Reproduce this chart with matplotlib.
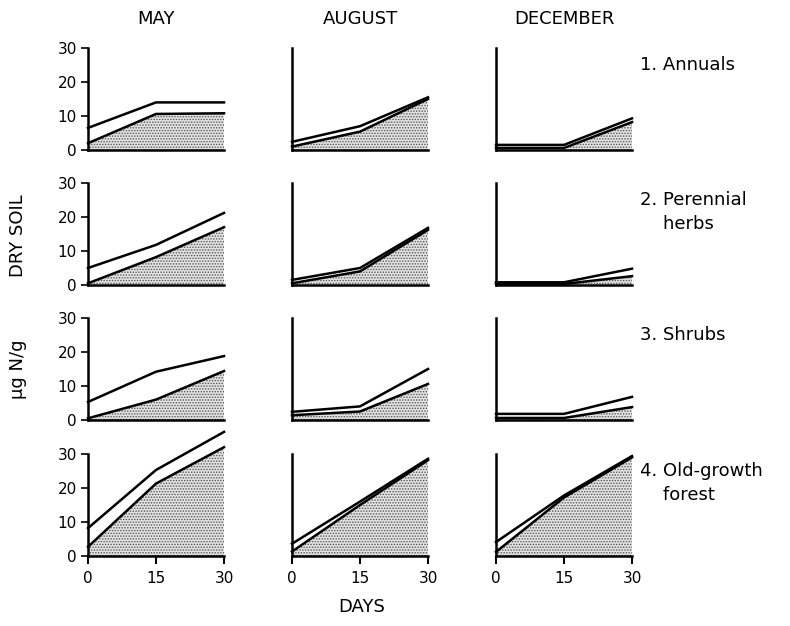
import matplotlib
matplotlib.use("Agg")
import matplotlib.pyplot as plt

plt.rcParams['font.family'] = ['DejaVu Sans']
plt.rcParams['hatch.color'] = '#555555'
plt.rcParams['hatch.linewidth'] = 0.7

days = [0, 15, 30]
months = ["MAY", "AUGUST", "DECEMBER"]
groups = ["1. Annuals", "2. Perennial\n    herbs", "3. Shrubs", "4. Old-growth\n    forest"]
y_ticks = [0, 10, 20, 30]
x_ticks = [0, 15, 30]

# upper (total) line values per group, per month
upper = {
    "1. Annuals": [[6.5, 14.0, 14.0], [2.4, 7.0, 15.5], [1.5, 1.5, 9.3]],
    "2. Perennial\n    herbs": [[5.0, 11.8, 21.2], [1.5, 5.0, 16.8], [0.8, 0.8, 4.8]],
    "3. Shrubs": [[5.3, 14.2, 18.8], [2.4, 4.0, 15.0], [1.8, 1.8, 6.8]],
    "4. Old-growth\n    forest": [[8.2, 25.3, 36.5], [3.6, 16.0, 28.6], [4.1, 17.8, 29.4]],
}
# lower (shaded) line values per group, per month
lower = {
    "1. Annuals": [[2.0, 10.6, 10.8], [1.0, 5.4, 15.0], [0.6, 0.6, 8.2]],
    "2. Perennial\n    herbs": [[0.5, 8.2, 17.0], [0.5, 4.0, 16.2], [0.3, 0.3, 2.6]],
    "3. Shrubs": [[0.5, 6.0, 14.4], [1.4, 2.5, 10.6], [0.6, 0.6, 3.8]],
    "4. Old-growth\n    forest": [[2.7, 21.3, 32.0], [1.3, 15.0, 28.2], [1.2, 17.2, 29.0]],
}

W, H = 790, 626
fig = plt.figure(figsize=(W / 100, H / 100), dpi=100)

col_left = [88, 292, 496]
row_bottom = [150, 285, 420, 556]
aw, ah = 136, 102

for r, g in enumerate(groups):
    for c, m in enumerate(months):
        ax = fig.add_axes([col_left[c] / W, 1 - row_bottom[r] / H, aw / W, ah / H])
        up = upper[g][c]
        lo = lower[g][c]
        ax.fill_between(days, 0, lo, facecolor='#e2e2e2', edgecolor='none',
                        hatch='......', linewidth=0, clip_on=False, zorder=1)
        ax.plot(days, up, color='black', lw=1.8, clip_on=False, zorder=3)
        ax.plot(days, lo, color='black', lw=1.8, clip_on=False, zorder=3)
        ax.set_xlim(0, 30)
        ax.set_ylim(0, 30)
        for s in ['top', 'right']:
            ax.spines[s].set_visible(False)
        ax.spines['left'].set_linewidth(1.8)
        ax.spines['bottom'].set_linewidth(1.8)
        ax.spines['left'].set_zorder(4)
        ax.spines['bottom'].set_zorder(4)
        if c == 0:
            ax.set_yticks(y_ticks)
            ax.tick_params(axis='y', direction='out', length=5, width=1.2,
                           labelsize=11, pad=3)
        else:
            ax.set_yticks([])
        if r == len(groups) - 1:
            ax.set_xticks(x_ticks)
            ax.tick_params(axis='x', direction='out', length=6, width=1.5,
                           labelsize=11, pad=5)
        else:
            ax.set_xticks([])
        if r == 0:
            ax.set_title(m, fontsize=13, pad=17, fontweight='normal')
    fig.text(640 / W, 1 - (row_bottom[r] - ah + 8) / H, g, fontsize=13,
             ha='left', va='top', linespacing=1.45)

fig.text(18 / W, 1 - 236 / H, "DRY SOIL", rotation=90, fontsize=13,
         ha='center', va='center')
fig.text(18 / W, 1 - 369 / H, "µg N/g", rotation=90, fontsize=13,
         ha='center', va='center')
fig.text(362 / W, 1 - 607 / H, "DAYS", fontsize=13, ha='center', va='center')

fig.savefig("out.png", dpi=100)
